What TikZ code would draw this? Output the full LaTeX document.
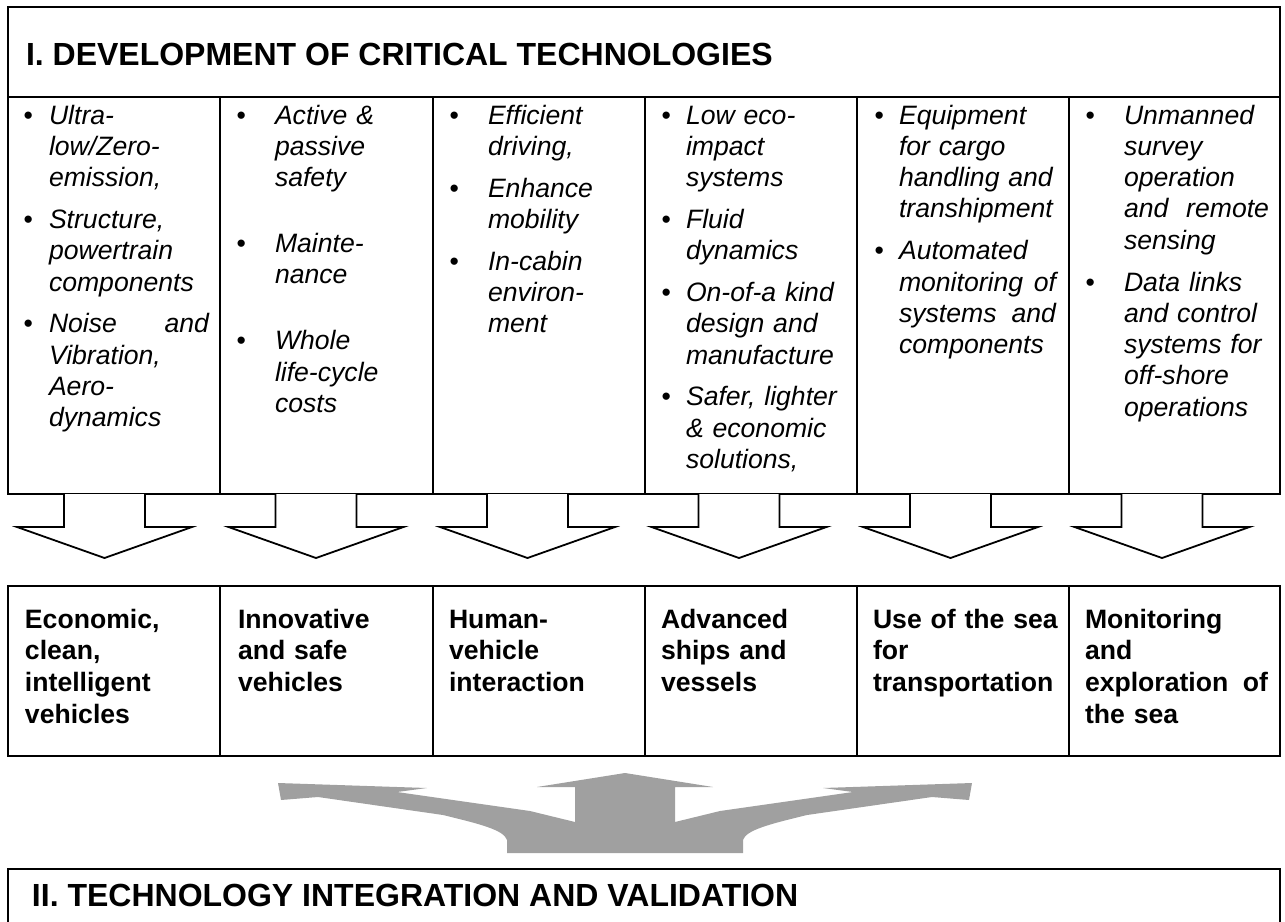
\documentclass[tikz,border=0pt]{standalone}
\usepackage{fontspec}
\setmainfont{Liberation Sans}
\definecolor{flowgrey}{RGB}{160,160,160}
\newcommand{\bul}[1]{\leavevmode\llap{\upshape\textbullet\hspace{#1}}}

\begin{document}
\begin{tikzpicture}[x=0.5pt, y=-0.5pt, line width=1pt,
        item/.style={anchor=base west, inner sep=0pt, font=\fontsize{13.3}{15.65}\selectfont\itshape},
        goal/.style={anchor=base west, inner sep=0pt, text width=91.5pt, font=\fontsize{13.3}{15.85}\selectfont\bfseries},
        heading/.style={anchor=base west, inner sep=0pt, font=\fontsize{16}{19}\selectfont\bfseries},
        downarrow/.style={line width=0.9pt, fill=white}]
    \useasboundingbox (0,0) rectangle (1285,921);

    \draw (8,7) rectangle (1280,494);
    \draw (8,97) -- (1280,97);
    \foreach \x in {220,433,645,857,1069}
        \draw (\x,97) -- (\x,494);
    \node [heading] (devtitle) at (25,65) {I. DEVELOPMENT OF CRITICAL TECHNOLOGIES};

    \node [item, text width=80pt] (veh) at (48,124)
        {\bul{8pt}Ultra-\\low/Zero-\\emission,\par\vspace{5.25pt}
         \bul{8pt}Structure,\\powertrain\\components\par\vspace{5.25pt}
         \bul{8pt}Noise\hfill and\\Vibration,\\Aero-\\dynamics};
    \node [item, text width=76pt] (safe) at (274,124)
        {\bul{14.5pt}Active \&\\passive\\safety\par\vspace{17.3pt}
         \bul{14.5pt}Mainte-\\nance\par\vspace{17.3pt}
         \bul{14.5pt}Whole\\life-cycle\\costs};
    \node [item, text width=75pt] (human) at (487,124)
        {\bul{14.5pt}Efficient\\driving,\par\vspace{5.25pt}
         \bul{14.5pt}Enhance\\mobility\par\vspace{5.25pt}
         \bul{14.5pt}In-cabin\\environ-\\ment};
    \node [item, text width=82pt] (ships) at (685,124)
        {\bul{7.5pt}Low eco-\\impact\\systems\par\vspace{5.25pt}
         \bul{7.5pt}Fluid\\dynamics\par\vspace{5.25pt}
         \bul{7.5pt}On-of-a kind\\design and\\manufacture\par\vspace{5.25pt}
         \bul{7.5pt}Safer, lighter\\\& economic\\solutions,};
    \node [item, text width=78.5pt] (transp) at (898,124)
        {\bul{7.5pt}Equipment\\for cargo\\handling and\\transhipment\par\vspace{5.25pt}
         \bul{7.5pt}Automated\\monitoring\hfill of\\systems\hfill and\\components};
    \node [item, text width=72.5pt] (explor) at (1123,124)
        {\bul{14.5pt}Unmanned\\survey\\operation\\and\hfill remote\\sensing\par\vspace{5.25pt}
         \bul{14.5pt}Data links\\and control\\systems for\\off-shore\\operations};

    \foreach \cx in {104.5,316,527.5,739,950.5,1162}
        \draw [downarrow] (\cx-40.5,494) -- (\cx-40.5,527) -- (\cx-87.5,527) -- (\cx,558)
            -- (\cx+87.5,527) -- (\cx+40.5,527) -- (\cx+40.5,494);

    \draw (8,586) rectangle (1280,756);
    \foreach \x in {220,433,645,857,1069}
        \draw (\x,586) -- (\x,756);
    \node [goal] (g1) at (24,628) {Economic,\\clean,\\intelligent\\vehicles};
    \node [goal] (g2) at (237,628) {Innovative\\and safe\\vehicles};
    \node [goal] (g3) at (448,628) {Human-\\vehicle\\interaction};
    \node [goal] (g4) at (660,628) {Advanced\\ships and\\vessels};
    \node [goal] (g5) at (872,628) {\mbox{Use of the sea}\\for\\transportation};
    \node [goal] (g6) at (1084,628) {Monitoring\\and\\exploration\hfill of\\the sea};

    \fill [flowgrey] (625,773) -- (713,787) -- (675,787) -- (675,822) -- (720,811) -- (853,792)
        -- (823,788) -- (972,783) -- (969,800) -- (932,797) -- (807,815)
        .. controls (770,824) and (746,830) .. (743,840) -- (743,853)
        -- (507,853) -- (507,840) .. controls (504,830) and (480,824) .. (443,815)
        -- (318,797) -- (281,800) -- (278,783) -- (427,788) -- (397,792)
        -- (530,811) -- (575,822) -- (575,787) -- (537,787) -- cycle;

    \draw (8,930) |- (1280,869) -- (1280,930);
    \node [heading] (inttitle) at (31,906) {II. TECHNOLOGY INTEGRATION AND VALIDATION};
\end{tikzpicture}
\end{document}
